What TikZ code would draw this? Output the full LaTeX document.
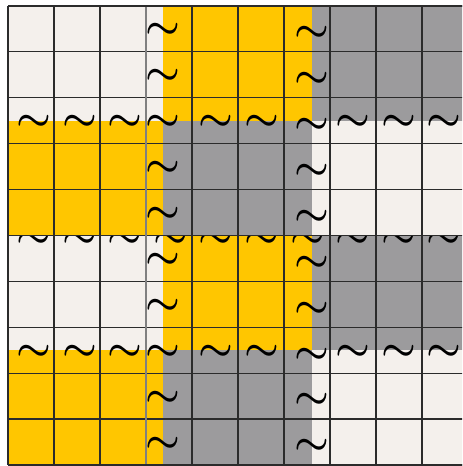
\documentclass[tikz,border=0pt]{standalone}
\usepackage{xcolor}
\usepackage{tikz}
\definecolor{creamfill}{HTML}{F4F0EC}
\definecolor{yellowfill}{HTML}{FFC600}
\definecolor{grayfill}{HTML}{9C9B9D}
\definecolor{gridink}{HTML}{2B2B2B}

\begin{document}
\begin{tikzpicture}[
    x=46pt, y=45.9pt,
    gridline/.style={gridink, line width=1.2pt},
    frameline/.style={gridink, line width=2.4pt},
    wave/.style={inner sep=0pt, yshift=-2.4pt, scale=3.9, font=\boldmath}
]
\useasboundingbox (-0.174,-0.022) rectangle (9.87,10.13);
\clip (-0.174,-0.022) rectangle (9.87,10.13);
\fill[white] (-0.174,-0.022) rectangle (9.87,10.13);

% lower half of the plaid
\fill[yellowfill] (0,0) rectangle (3.37,2.5);
\fill[grayfill] (3.37,0) rectangle (6.61,2.5);
\fill[creamfill] (6.61,0) rectangle (10,2.5);
\fill[creamfill] (0,2.5) rectangle (3.37,5);
\fill[yellowfill] (3.37,2.5) rectangle (6.61,5);
\fill[grayfill] (6.61,2.5) rectangle (10,5);

% waves on the middle seam, half hidden by the upper half
\foreach \c in {0,...,9} \node[wave] (mid-\c) at (\c*0.99+0.57,4.96) {$\sim$};

% upper half of the plaid
\fill[yellowfill] (0,5) rectangle (3.37,7.5);
\fill[grayfill] (3.37,5) rectangle (6.61,7.5);
\fill[creamfill] (6.61,5) rectangle (10,7.5);
\fill[creamfill] (0,7.5) rectangle (3.37,10);
\fill[yellowfill] (3.37,7.5) rectangle (6.61,10);
\fill[grayfill] (6.61,7.5) rectangle (10,10);

% grid
\draw[gridline, step=1] (0,0) grid (10,10);
\draw[gridline, draw=gray] (3,0) -- (3,10);
\draw[frameline] (0,0) -- (0,10);
\draw[gridline, line width=2pt] (0,10) -- (10,10) (0,0) -- (10,0);

% waves on the vertical seams
\foreach \r in {0,...,9} {
  \node[wave] (left-\r) at (3.37,\r+0.5) {$\sim$};
  \node[wave] (right-\r) at (6.61,\r+0.44) {$\sim$};
}
% waves on the outer seams
\foreach \c in {0,1,2,4,5,7,8,9} {
  \node[wave] (low-\c) at (\c*0.99+0.57,2.5) {$\sim$};
  \node[wave] (high-\c) at (\c*0.99+0.57,7.5) {$\sim$};
}
\end{tikzpicture}
\end{document}
